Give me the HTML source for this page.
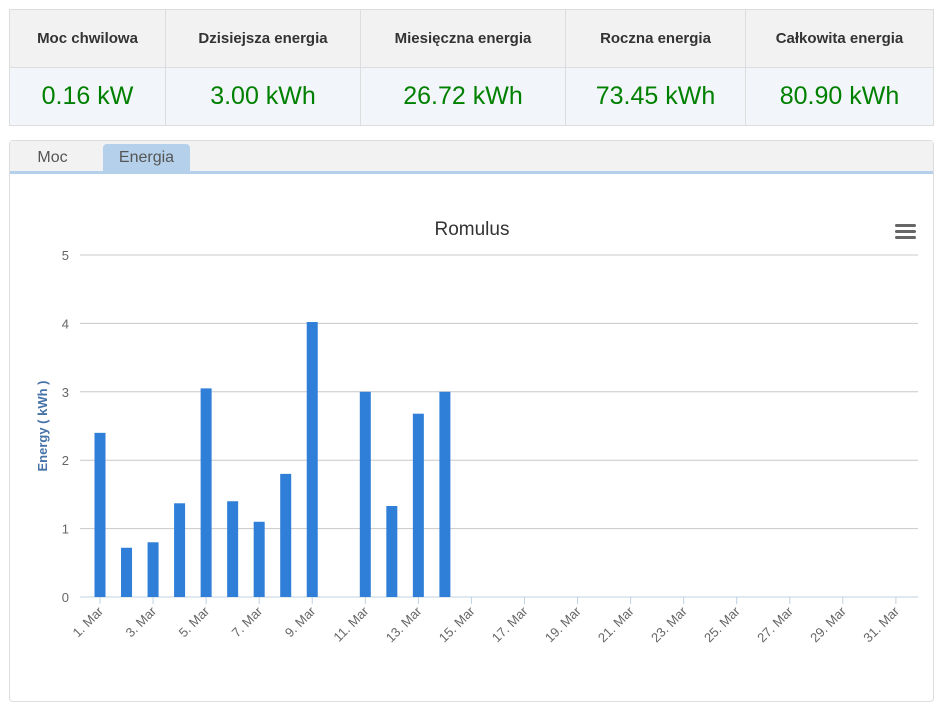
<!DOCTYPE html>
<html><head><meta charset="utf-8"><style>
body{margin:0;width:946px;height:681px;background:#fff;font-family:"Liberation Sans",sans-serif;position:relative;overflow:hidden}
table{position:absolute;left:9px;top:9px;width:925px;border-collapse:collapse}
td,th{border:1px solid #ddd;text-align:center}
th{height:55px;background:#f2f2f2;font-size:15px;color:#333;font-weight:bold}
td{height:55px;background:#f2f6fa;color:#008000;font-size:25px}
.panel{position:absolute;left:9px;top:140px;width:923px;height:560px;border:1px solid #ddd;border-radius:4px;background:#fff}
.tabbar{height:30px;background:#f2f2f2;border-bottom:3px solid #b5d0ea;position:relative}
.tab{position:absolute;top:3px;height:27px;line-height:27px;font-size:16px;color:#555;text-align:center}
</style></head><body>
<table><tr>
<th style="width:153px">Moc chwilowa</th><th style="width:192px">Dzisiejsza energia</th><th style="width:202px">Miesięczna energia</th><th style="width:177px">Roczna energia</th><th>Całkowita energia</th></tr>
<tr><td>0.16 kW</td><td>3.00 kWh</td><td>26.72 kWh</td><td>73.45 kWh</td><td>80.90 kWh</td></tr></table>
<div class="panel">
<div class="tabbar"><div class="tab" style="left:10px;width:65px">Moc</div>
<div class="tab" style="left:93px;width:87px;background:#b5d0ea;border-radius:4px 4px 0 0">Energia</div></div>
</div>
<svg id="chart" width="946" height="681" style="position:absolute;left:0;top:0">
<text x="472" y="235" text-anchor="middle" font-size="19" fill="#333">Romulus</text>
<g fill="#666"><rect x="895" y="224" width="21" height="3" rx="1.5"/><rect x="895" y="230" width="21" height="3" rx="1.5"/><rect x="895" y="236" width="21" height="3" rx="1.5"/></g>
<text transform="translate(47,426) rotate(-90)" text-anchor="middle" font-size="13" font-weight="bold" fill="#4572a7">Energy ( kWh )</text>
</svg>
<script>
const days=[1,2,3,4,5,6,7,8,9,10,11,12,13,14];
const values=[2.4,0.72,0.8,1.37,3.05,1.4,1.1,1.8,4.02,0,3.0,1.33,2.68,3.0];
const yTicks=[0,1,2,3,4,5];
const xTickDays=[1,3,5,7,9,11,13,15,17,19,21,23,25,27,29,31];
const svg=document.getElementById('chart');const NS='http://www.w3.org/2000/svg';
const x=d=>100+(d-1)*26.53, y=v=>597-v*68.4;
function mk(t,a,p){const e=document.createElementNS(NS,t);for(const k in a)e.setAttribute(k,a[k]);(p||svg).appendChild(e);return e;}
yTicks.forEach(v=>{
 const l=mk('line',{x1:80,x2:918,y1:y(v),y2:y(v),stroke:v?'#c8c8c8':'#c0d0e0','stroke-width':1});
 
 
 const t=mk('text',{x:69,y:y(v)+5,'text-anchor':'end','font-size':13,fill:'#666'});t.textContent=v;
 
 
});
days.forEach((d,i)=>{
 const r=mk('rect',{x:x(d)-5.5,y:y(values[i]),width:11,height:values[i]*68.4,fill:'#2f7ed8'});
 
 
});
xTickDays.forEach(d=>{
 mk('line',{x1:x(d),x2:x(d),y1:597,y2:604,stroke:'#c0d0e0'});
 const t=mk('text',{'text-anchor':'end','font-size':13,fill:'#666',transform:`translate(${x(d)+4},${612}) rotate(-45)`});t.textContent=d+'. Mar';
 
 
});
</script>
</body></html>
